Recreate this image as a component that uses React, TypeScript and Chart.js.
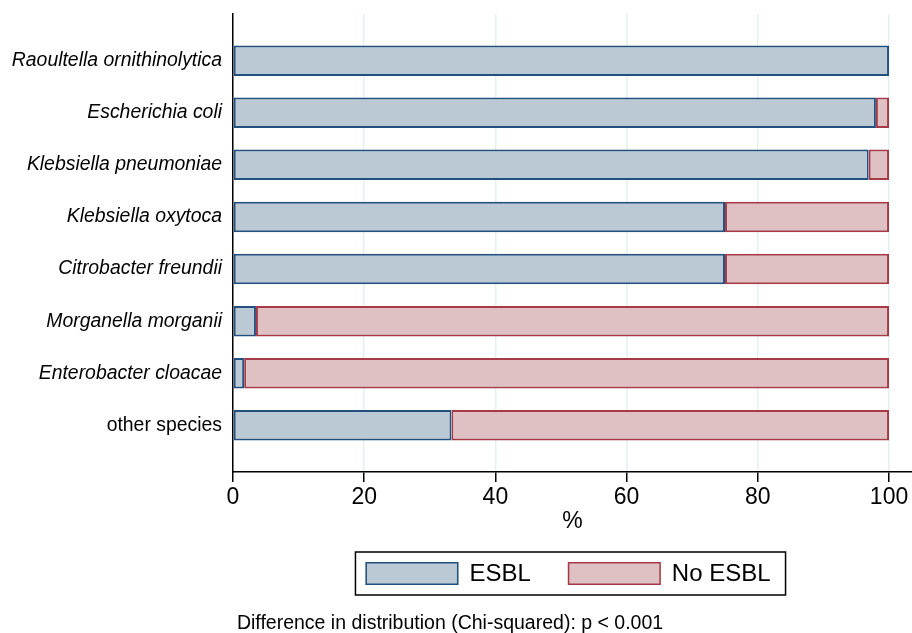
import React, { useEffect, useRef } from 'react';
import { Chart, registerables } from 'chart.js';

Chart.register(...registerables);

const categories = [
  'Raoultella ornithinolytica',
  'Escherichia coli',
  'Klebsiella pneumoniae',
  'Klebsiella oxytoca',
  'Citrobacter freundii',
  'Morganella morganii',
  'Enterobacter cloacae',
  'other species',
];
const esblValues = [100, 98, 96.9, 75, 75, 3.5, 1.7, 33.3];
const noEsblValues = [0, 2, 3.1, 25, 25, 96.5, 98.3, 66.7];
const seriesNames = ['ESBL', 'No ESBL'];
const italicFlags = [true, true, true, true, true, true, true, false];
const xTickValues = [0, 20, 40, 60, 80, 100];
const xAxisTitle = '%';
const footnote = 'Difference in distribution (Chi-squared): p < 0.001';

const FONT = '"Liberation Sans", Arial, Helvetica, sans-serif';
const ESBL_FILL = '#bac9d4';
const ESBL_BORDER = '#23517f';
const NO_FILL = '#dfc1c4';
const NO_BORDER = '#a63a46';

const boxLegend = {
  id: 'boxLegend',
  afterDraw(chart: any) {
    const { ctx, chartArea, width } = chart;
    const datasets = chart.data.datasets;
    ctx.save();
    ctx.font = `24px ${FONT}`;
    const sw = 93, sh = 23, gapText = 11, gapItem = 37, padL = 10, padR = 15, padV = 10;
    const widths = seriesNames.map((n) => ctx.measureText(n).width);
    let total = padL + padR;
    widths.forEach((w, i) => {
      total += sw + gapText + w + (i < widths.length - 1 ? gapItem : 0);
    });
    const cx = (chartArea.left + chartArea.right) / 2 - 2;
    const left = cx - total / 2;
    const top = chartArea.bottom + 80;
    const h = sh + padV * 2;
    ctx.strokeStyle = '#000';
    ctx.lineWidth = 1.5;
    ctx.strokeRect(left, top, total, h);
    let x = left + padL;
    seriesNames.forEach((name, i) => {
      const ds = datasets[i];
      ctx.fillStyle = ds.backgroundColor;
      ctx.fillRect(x, top + padV, sw, sh);
      ctx.strokeStyle = ds.borderColor;
      ctx.lineWidth = 1.5;
      ctx.strokeRect(x + 0.75, top + padV + 0.75, sw - 1.5, sh - 1.5);
      x += sw + gapText;
      ctx.fillStyle = '#000';
      ctx.textAlign = 'left';
      ctx.textBaseline = 'middle';
      ctx.fillText(name, x, top + h / 2 + 1);
      x += widths[i] + gapItem;
    });
    // footnote
    ctx.font = `19.5px ${FONT}`;
    ctx.fillStyle = '#000';
    ctx.textAlign = 'center';
    ctx.textBaseline = 'middle';
    ctx.fillText(footnote, width / 2 - 6, chartArea.bottom + 152);
    ctx.restore();
  },
};

export default function App() {
  const canvasRef = useRef<HTMLCanvasElement | null>(null);

  useEffect(() => {
    document.body.style.margin = '0';
    const canvas = canvasRef.current;
    if (!canvas) return;
    const borderW = (c: any) => (c.raw && c.raw.x > 0 ? 2 : 0);
    const chart = new Chart(canvas, {
      type: 'bar',
      data: {
        datasets: [
          {
            label: seriesNames[0],
            data: esblValues.map((v, i) => ({ x: v, y: i })),
            backgroundColor: ESBL_FILL,
            borderColor: ESBL_BORDER,
            borderWidth: borderW,
            borderSkipped: false,
            categoryPercentage: 1,
            barPercentage: 0.585,
          },
          {
            label: seriesNames[1],
            data: noEsblValues.map((v, i) => ({ x: v, y: i })),
            backgroundColor: NO_FILL,
            borderColor: NO_BORDER,
            borderWidth: borderW,
            borderSkipped: false,
            categoryPercentage: 1,
            barPercentage: 0.585,
          },
        ],
      },
      options: {
        indexAxis: 'y',
        animation: false,
        responsive: false,
        devicePixelRatio: 1,
        layout: { padding: { top: 14, left: 0, right: 0, bottom: 98 } },
        plugins: {
          legend: { display: false },
          tooltip: { enabled: false },
        },
        scales: {
          x: {
            type: 'linear',
            stacked: true,
            bounds: 'data',
            offset: false,
            min: 0,
            max: 103.5,
            afterBuildTicks: (s: any) => {
              s.ticks = xTickValues.map((v) => ({ value: v }));
            },
            afterFit: (s: any) => {
              s.height = 63;
            },
            ticks: {
              color: '#000',
              font: { family: FONT, size: 23 },
              padding: 2,
              callback: (v: any) => String(v),
            },
            grid: {
              offset: false,
              color: '#e6eff2',
              lineWidth: 1.5,
              tickColor: '#000',
              tickLength: 10,
              tickWidth: 1.5,
            },
            border: { color: '#000', width: 1.5 },
            title: {
              display: true,
              text: xAxisTitle,
              color: '#000',
              font: { family: FONT, size: 23 },
              padding: { top: 0, bottom: 0 },
            },
          },
          y: {
            type: 'linear',
            stacked: true,
            reverse: true,
            bounds: 'data',
            offset: false,
            min: -0.896,
            max: 7.896,
            afterBuildTicks: (s: any) => {
              s.ticks = categories.map((_, i) => ({ value: i }));
            },
            afterFit: (s: any) => {
              s.width = 233;
              s.paddingTop = 0;
              s.paddingBottom = 0;
            },
            ticks: {
              autoSkip: false,
              color: '#000',
              padding: 11,
              font: (c: any) => ({
                family: FONT,
                size: 19.4,
                style: italicFlags[c.index] ? 'italic' : 'normal',
              }),
              callback: (_v: any, i: number) => categories[i],
            },
            grid: { display: false, drawTicks: false, offset: false },
            border: { display: true, color: '#000', width: 1.5 },
          },
        },
      },
      plugins: [boxLegend],
    } as any);
    return () => chart.destroy();
  }, []);

  return (
    <div style={{ width: 912, height: 633 }}>
      <canvas ref={canvasRef} width={912} height={633} />
    </div>
  );
}
